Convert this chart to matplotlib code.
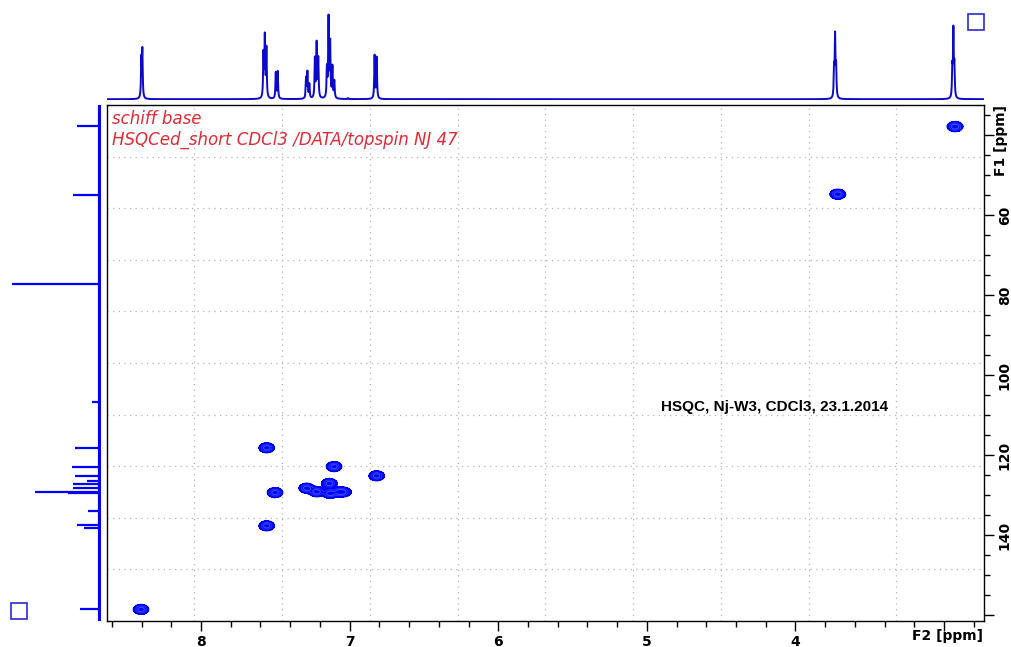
import numpy as np
import matplotlib
matplotlib.use("Agg")
import matplotlib.pyplot as plt
from matplotlib.patches import Rectangle

# 2D HSQC cross peaks: F2 (1H, ppm), F1 (13C, ppm), relative amplitude
cross_h = [8.404, 7.558, 7.558, 7.502, 7.105, 6.818, 7.289, 7.221, 7.137, 7.132, 7.065, 7.031, 3.715, 2.926]
cross_c = [158.6, 118.2, 137.7, 129.4, 122.9, 125.2, 128.3, 129.2, 127.1, 129.6, 129.2, 129.3, 54.8, 37.9]
cross_amp = [1.0, 1.0, 1.0, 1.0, 1.0, 1.0, 1.0, 1.0, 1.0, 1.0, 0.9, 0.45, 1.05, 1.1]

# 1H projection (top): line positions (ppm) and heights
h_lines = [8.402, 8.395, 7.580, 7.571, 7.560, 7.497, 7.484, 7.293, 7.284, 7.271,
           7.234, 7.222, 7.211, 7.153, 7.142, 7.131, 7.116, 7.103, 7.010,
           6.832, 6.818, 3.740, 3.733, 3.726, 2.944, 2.937, 2.930]
h_heights = [38, 47, 43, 60, 49, 26, 27, 20, 26, 14,
             39, 54, 39, 29, 79, 54, 31, 17, 1,
             43, 41, 28, 60, 29, 28, 66, 30]

# 13C projection (left): line positions (ppm) and heights
c_lines = [37.7, 55.0, 77.25, 106.8, 118.3, 123.1, 125.2, 126.5, 127.3, 128.2,
           129.25, 129.6, 134.0, 137.6, 138.2, 158.6]
c_heights = [23, 27, 88, 8, 25, 28, 25, 13, 27, 27, 65, 32, 12, 23, 16, 20]

f2_lim = (8.635, 2.731)
f1_lim = (161.5, 32.5)

W, H = 1011, 647
fig = plt.figure(figsize=(W / 100, H / 100), dpi=100)

def fx(px):
    return px / W

def fy(py):
    return 1 - py / H

blue = "#0000ff"
dark_blue = "#0a0ac8"

# main 2D axes
ax = fig.add_axes([fx(106.7), fy(621), fx(984) - fx(106.7), fy(105) - fy(621)])
xg = np.linspace(f2_lim[1], f2_lim[0], 1400)
yg = np.linspace(f1_lim[1], f1_lim[0], 700)
X, Y = np.meshgrid(xg, yg)
Z = np.zeros_like(X)
for h, c, a in zip(cross_h, cross_c, cross_amp):
    Z += a * np.exp(-((X - h) ** 2) / (2 * 0.026 ** 2) - ((Y - c) ** 2) / (2 * 0.62 ** 2))
ax.contourf(X, Y, Z, levels=[0.13, 10], colors=[blue])
ax.contour(X, Y, Z, levels=[0.13, 0.4, 0.7], colors=["#0000e0", "#2030ff", "#3a4cff"], linewidths=0.8)
ax.set_xlim(*f2_lim)
ax.set_ylim(*f1_lim)

# dotted grid dividing the frame into 10 x 10
for k in range(1, 10):
    f = k / 10
    ax.plot([f, f], [0, 1], transform=ax.transAxes, color="#b4b4b4", lw=0.9, ls=(0, (1, 3.5)), zorder=0)
    ax.plot([0, 1], [f, f], transform=ax.transAxes, color="#b4b4b4", lw=0.9, ls=(0, (1, 3.5)), zorder=0)

ax.set_xticks([8, 7, 6, 5, 4, 3])
ax.set_xticklabels(["8", "7", "6", "5", "4", ""])
ax.set_xticks(np.arange(2.8, 8.7, 0.2), minor=True)
ax.set_yticks([40, 60, 80, 100, 120, 140, 160])
ax.set_yticklabels(["", "60", "80", "100", "120", "140", ""])
ax.set_yticks(np.arange(35, 161, 5), minor=True)
ax.yaxis.tick_right()
ax.tick_params(axis="both", which="major", direction="out", length=7, width=1, labelsize=10, pad=3)
ax.tick_params(axis="both", which="minor", direction="out", length=4, width=1)
for lab in ax.get_xticklabels() + ax.get_yticklabels():
    lab.set_fontweight("bold")
for lab in ax.get_yticklabels():
    lab.set_rotation(90)
    lab.set_va("center")
for s in ax.spines.values():
    s.set_linewidth(1.0)
    s.set_color("black")

ax.text(0.006, 0.972, "schiff base", transform=ax.transAxes, color="#dc2c38",
        fontsize=12, style="italic", va="center")
ax.text(0.006, 0.933, "HSQCed_short CDCl3 /DATA/topspin NJ 47", transform=ax.transAxes,
        color="#dc2c38", fontsize=12, style="italic", va="center")
ax.text(fx(775), fy(407), "HSQC, Nj-W3, CDCl3, 23.1.2014", transform=fig.transFigure,
        family="Liberation Sans", fontweight="bold", fontsize=11, ha="center", va="center")

# top 1H projection
axt = fig.add_axes([fx(106.7), fy(100), fx(984) - fx(106.7), fy(10) - fy(100)])
xs = np.linspace(f2_lim[1], f2_lim[0], 14000)
spec = np.zeros_like(xs)
gam = 0.0028
for p, hgt in zip(h_lines, h_heights):
    spec += hgt * gam ** 2 / ((xs - p) ** 2 + gam ** 2)
axt.plot(xs, spec, color=dark_blue, lw=1.4)
axt.set_xlim(*f2_lim)
axt.set_ylim(-0.8, 89.2)
axt.axis("off")

# left 13C projection
axl = fig.add_axes([fx(8), fy(621), fx(101) - fx(8), fy(105) - fy(621)])
axl.hlines(c_lines, 0, c_heights, color=blue, lw=1.6)
axl.plot([0, 0], [f1_lim[0] + 0.5, f1_lim[1] - 0.5], color=blue, lw=3)
axl.set_ylim(*f1_lim)
axl.set_xlim(92, -1)
axl.axis("off")

# small boxes and axis titles
fig.patches.append(Rectangle((fx(968), fy(30)), fx(16), fy(14) - fy(30), transform=fig.transFigure,
                             fill=False, edgecolor="#2a2ad0", lw=1.2))
fig.patches.append(Rectangle((fx(11), fy(619)), fx(16), fy(603) - fy(619), transform=fig.transFigure,
                             fill=False, edgecolor="#2a2ad0", lw=1.2))
fig.text(fx(948), fy(636), "F2 [ppm]", fontsize=10, fontweight="bold", ha="center", va="center")
fig.text(fx(1001), fy(141), "F1 [ppm]", fontsize=10, fontweight="bold", ha="center", va="center",
         rotation=90)

fig.savefig("out.png", dpi=100)
